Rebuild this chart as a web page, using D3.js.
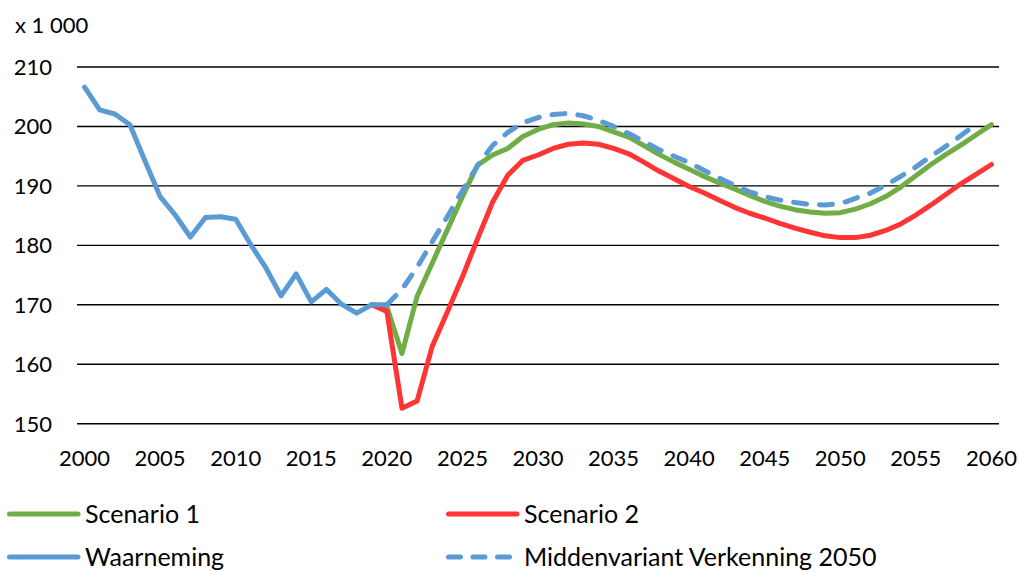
<!DOCTYPE html>
<html>
<head>
<meta charset="utf-8">
<script src="https://cdn.jsdelivr.net/npm/d3@7"></script>
<style>
  body { margin: 0; background: #fff; }
  svg { display: block; font-family: Lato, "Open Sans", sans-serif; }
  .tick-label { font-size: 22px; fill: #000; }
  .legend-label { font-size: 25px; fill: #000; }
</style>
</head>
<body>
<div id="chart"></div>
<script>
// categories / ticks
const yTicks = [150, 160, 170, 180, 190, 200, 210];
const xTickYears = [2000, 2005, 2010, 2015, 2020, 2025, 2030, 2035, 2040, 2045, 2050, 2055, 2060];
const firstYear = 2000, lastYear = 2060;

// Waarneming, 2000-2020 (x 1 000)
const waarnemingStart = 2000;
const waarneming = [206.6, 202.8, 202.1, 200.3, 194.2, 188.2, 185.1, 181.4, 184.7, 184.8,
  184.4, 180.1, 176.2, 171.5, 175.2, 170.5, 172.6, 170.1, 168.6, 170.0, 170.0];

// Scenario 1, 2019-2060
const scenario1Start = 2019;
const scenario1 = [170.0, 169.7, 161.8, 171.4, 177.0, 182.6, 188.2, 193.5, 195.2, 196.3,
  198.3, 199.5, 200.3, 200.6, 200.4, 200.0, 199.1, 198.2, 196.8, 195.3,
  194.0, 192.8, 191.6, 190.5, 189.5, 188.4, 187.4, 186.6, 186.0, 185.6,
  185.4, 185.5, 186.1, 187.0, 188.2, 189.8, 191.7, 193.6, 195.3, 196.9,
  198.6, 200.3];

// Scenario 2, 2019-2060
const scenario2Start = 2019;
const scenario2 = [170.0, 168.9, 152.6, 153.8, 163.0, 168.8, 174.7, 181.1, 187.3, 191.8,
  194.3, 195.2, 196.3, 197.0, 197.2, 197.0, 196.3, 195.4, 194.0, 192.5,
  191.2, 189.9, 188.8, 187.6, 186.4, 185.4, 184.6, 183.7, 182.9, 182.2,
  181.6, 181.3, 181.3, 181.7, 182.5, 183.6, 185.1, 186.8, 188.6, 190.4,
  192.0, 193.6];

// Middenvariant Verkenning 2050, 2020-2059
const middenStart = 2020;
const midden = [170.0, 172.6, 176.3, 180.6, 184.8, 189.2, 193.4, 196.8, 199.0, 200.6,
  201.5, 202.0, 202.2, 201.8, 201.0, 200.0, 198.8, 197.5, 196.1, 195.0,
  193.9, 192.6, 191.3, 190.1, 189.0, 188.2, 187.6, 187.2, 186.9, 186.8,
  187.0, 187.9, 188.8, 190.1, 191.6, 193.2, 195.0, 196.7, 198.5, 200.4];

const config = {
  width: 1019,
  height: 572,
  margin: {top: 67, left: 77},
  plotRight: 999,
  plotBottom: 423.7,
  lineWidth: 5
};

const series = [
  {name: 'Scenario 1', start: scenario1Start, values: scenario1, color: '#70AD47', dash: null},
  {name: 'Scenario 2', start: scenario2Start, values: scenario2, color: '#FF3535', dash: null},
  {name: 'Waarneming', start: waarnemingStart, values: waarneming, color: '#5B9BD5', dash: null},
  {name: 'Middenvariant Verkenning 2050', start: middenStart, values: midden, color: '#5B9BD5', dash: '13,13'}
];

const svg = d3.select('#chart').append('svg')
  .attr('width', config.width)
  .attr('height', config.height);

const years = d3.range(firstYear, lastYear + 1);
const x = d3.scalePoint()
  .domain(years)
  .range([config.margin.left, config.plotRight])
  .padding(0.5);

const y = d3.scaleLinear()
  .domain([150, 210])
  .range([config.plotBottom, config.margin.top]);

// gridlines
svg.append('g')
  .selectAll('line')
  .data(yTicks)
  .join('line')
    .attr('x1', config.margin.left)
    .attr('x2', config.plotRight)
    .attr('y1', d => y(d))
    .attr('y2', d => y(d))
    .attr('stroke', '#000')
    .attr('stroke-width', 1.4);

// y tick labels
svg.append('g')
  .selectAll('text')
  .data(yTicks)
  .join('text')
    .attr('class', 'tick-label')
    .attr('x', 52)
    .attr('y', d => y(d))
    .attr('dy', '0.36em')
    .attr('text-anchor', 'end')
    .text(d => d);

svg.append('text')
  .attr('class', 'tick-label')
  .attr('x', 15)
  .attr('y', 25)
  .attr('dy', '0.36em')
  .text('x 1 000');

// x tick labels
svg.append('g')
  .selectAll('text')
  .data(xTickYears)
  .join('text')
    .attr('class', 'tick-label')
    .attr('x', d => x(d))
    .attr('y', 458)
    .attr('dy', '0.36em')
    .attr('text-anchor', 'middle')
    .text(d => d);

// lines
const line = d3.line()
  .x(d => x(d.year))
  .y(d => y(d.value));

svg.append('g')
  .selectAll('path')
  .data(series)
  .join('path')
    .attr('d', s => line(s.values.map((v, i) => ({year: s.start + i, value: v}))))
    .attr('fill', 'none')
    .attr('stroke', s => s.color)
    .attr('stroke-width', config.lineWidth)
    .attr('stroke-linejoin', 'round')
    .attr('stroke-linecap', 'round')
    .attr('stroke-dasharray', s => s.dash);

// legend
const legendPos = [
  {x: 7, y: 514}, {x: 446, y: 514},
  {x: 7, y: 557}, {x: 446, y: 557}
];

const legend = svg.append('g')
  .selectAll('g')
  .data(series)
  .join('g')
    .attr('transform', (s, i) => `translate(${legendPos[i].x},${legendPos[i].y})`);

legend.append('line')
  .attr('x1', 2.5)
  .attr('x2', s => s.dash ? 69 : 71)
  .attr('stroke', s => s.color)
  .attr('stroke-width', config.lineWidth)
  .attr('stroke-linecap', 'round')
  .attr('stroke-dasharray', s => s.dash ? '12,12.5' : null);

legend.append('text')
  .attr('class', 'legend-label')
  .attr('x', 78)
  .attr('dy', '0.36em')
  .text(s => s.name);
</script>
</body>
</html>
